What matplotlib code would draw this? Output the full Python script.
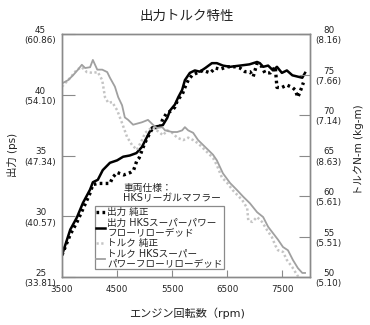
import matplotlib
matplotlib.use("Agg")
import matplotlib.pyplot as plt
from matplotlib.lines import Line2D

plt.rcParams['font.family'] = ['DejaVu Sans', 'Noto Sans CJK JP']

# ---- data ----
rpm_p_std = [3500,3650,3770,3880,4000,4060,4150,4280,4370,4420,4500,4620,4740,4800,4860,4900,5000,5100,5150,5280,5320,5400,5500,5550,5600,5680,5730,5790,5860,5950,6060,6190,6280,6370,6500,6640,6730,6820,6910,6970,7040,7130,7180,7280,7370,7400,7490,7580,7680,7730,7780,7850,7880]
ps_std = [26.8,28.5,29.5,30.6,31.8,32.6,32.7,32.7,32.7,33.2,33.6,33.4,33.6,33.8,34.6,34.8,36.0,36.9,37.3,37.3,37.9,38.5,38.7,39.0,39.6,40.0,40.6,41.2,41.6,41.8,42.0,41.8,42.2,42.1,42.3,42.3,42.2,41.9,41.9,41.5,42.6,42.3,41.8,41.8,42.3,40.6,40.6,40.8,40.6,40.4,39.8,40.6,41.0]

rpm_p_hks = [3500,3650,3770,3880,4010,4060,4150,4240,4370,4500,4610,4730,4850,4950,5040,5130,5220,5330,5410,5460,5550,5610,5680,5730,5820,5910,6000,6100,6220,6310,6420,6550,6730,6900,7040,7090,7150,7240,7330,7400,7490,7580,7680,7770,7860,7910]
ps_hks = [26.8,28.9,29.9,31.1,32.2,32.8,33.0,33.8,34.4,34.6,34.9,35.0,35.2,35.7,36.5,37.3,37.4,37.5,38.1,38.7,39.2,39.8,40.4,41.2,41.8,42.0,41.9,42.2,42.6,42.6,42.4,42.3,42.4,42.5,42.7,42.6,42.3,42.4,42.0,42.3,41.8,42.0,41.6,41.5,41.4,41.8]

rpm_t_std = [3500,3650,3770,3860,3950,4060,4150,4230,4280,4340,4410,4500,4590,4680,4770,4860,4950,5010,5060,5150,5220,5280,5330,5410,5500,5590,5700,5790,5880,5970,6060,6150,6240,6310,6400,6500,6600,6770,6860,6880,6950,7040,7130,7220,7310,7370,7420,7510,7580,7680,7770,7790]
t_std = [73.5,74.6,75.6,75.9,75.3,75.2,75.3,74.3,72.2,71.5,71.6,70.6,69.0,67.3,66.3,65.7,66.9,67.8,68.1,68.5,68.1,67.8,67.5,68.1,67.8,67.2,66.9,67.2,66.9,66.5,65.9,65.3,64.7,63.8,62.3,61.6,60.7,59.5,58.5,57.0,56.8,57.4,56.8,55.8,54.9,53.9,53.3,53.1,52.1,51.2,50.2,50.0]

rpm_t_hks = [3500,3610,3700,3790,3860,3920,4010,4060,4140,4230,4320,4370,4460,4520,4590,4640,4700,4790,4950,5060,5150,5220,5320,5370,5500,5590,5680,5730,5790,5880,5970,6060,6150,6240,6310,6420,6550,6680,6790,6910,7040,7150,7240,7330,7420,7510,7600,7690,7780,7860,7910]
t_hks = [73.9,74.3,74.9,75.6,76.2,75.8,75.9,76.8,75.6,75.6,75.3,74.6,73.5,72.2,71.2,69.7,69.4,68.8,69.1,69.4,68.8,68.4,68.5,68.1,67.9,67.9,68.1,68.5,68.1,67.8,66.9,66.3,65.7,65.1,64.4,62.8,61.6,60.7,59.9,59.1,58.0,57.4,56.2,55.4,54.6,53.7,53.3,52.1,51.1,50.5,50.5]

x_ticks = [3500, 4500, 5500, 6500, 7500]
left_ticks = [25, 30, 35, 40, 45]
left_labels = ["25\n(33.81)", "30\n(40.57)", "35\n(47.34)", "40\n(54.10)", "45\n(60.86)"]
right_ticks = [50, 55, 60, 65, 70, 75, 80]
right_labels = ["50\n(5.10)", "55\n(5.51)", "60\n(5.61)", "65\n(8.63)", "70\n(7.14)", "75\n(7.66)", "80\n(8.16)"]
legend_labels = ["出力 純正", "出力 HKSスーパーパワー\nフローリローデッド", "トルク 純正", "トルク HKSスーパー\nパワーフローリローデッド"]

# ---- figure ----
W, H = 370, 325
fig = plt.figure(figsize=(W/100, H/100), dpi=100)
ax = fig.add_axes([62/W, 1-277/H, 248/W, 243/H])
ax2 = ax.twinx()

gray = '#8a8a8a'
txt = '#222222'

l1, = ax.plot(rpm_p_std, ps_std, color='black', lw=2.4, ls=(0, (0.8, 1.0)), label=legend_labels[0])
l2, = ax.plot(rpm_p_hks, ps_hks, color='black', lw=1.8, label=legend_labels[1])
l3, = ax2.plot(rpm_t_std, t_std, color='#c4c4c4', lw=1.8, ls=(0, (0.9, 1.0)), label=legend_labels[2])
l4, = ax2.plot(rpm_t_hks, t_hks, color='#a0a0a0', lw=1.3, label=legend_labels[3])

ax.set_xlim(3500, 8000)
ax.set_ylim(25, 45)
ax2.set_ylim(50, 80)

ax.set_xticks(x_ticks)
ax.set_xticklabels([str(v) for v in x_ticks], fontsize=6.3, color=txt)
ax.set_yticks(left_ticks)
ax.set_yticklabels(left_labels, fontsize=6.3, color=txt)
ax2.set_yticks(right_ticks)
ax2.set_yticklabels(right_labels, fontsize=6.3, color=txt)
for lb in ax.get_yticklabels():
    lb.set_multialignment('center')
for lb in ax2.get_yticklabels():
    lb.set_multialignment('center')

ax.tick_params(axis='x', direction='in', length=5, color=gray, pad=6)
ax.tick_params(axis='y', direction='in', length=9, color=gray, pad=4)
ax2.tick_params(axis='y', direction='in', length=8, color=gray, pad=4)
for a in (ax, ax2):
    for s in a.spines.values():
        s.set_color(gray)
        s.set_linewidth(1.0)

fig.text(187/W, 1-16/H, "出力トルク特性", ha='center', va='center', fontsize=9.7, color=txt)
fig.text(187/W, 1-313/H, "エンジン回転数（rpm)", ha='center', va='center', fontsize=8, color=txt)
fig.text(12/W, 1-155/H, "出力 (ps)", ha='center', va='center', rotation=90, fontsize=7.5, color=txt)
fig.text(359/W, 1-150/H, "トルクN-m (kg-m)", ha='center', va='center', rotation=90, fontsize=7.5, color=txt)

ax2.text((123-62)/248, (277-193)/243, "車両仕様：\nHKSリーガルマフラー", transform=ax.transAxes,
         ha='left', va='center', fontsize=7, color=txt, linespacing=1.1)

leg = ax2.legend(handles=[l1, l2, l3, l4], loc='upper left',
                 bbox_to_anchor=((95-62)/248, (277-206)/243),
                 fontsize=6.9, frameon=True, fancybox=False, framealpha=1,
                 edgecolor=gray, handlelength=0.9, handletextpad=0.25,
                 labelspacing=0.08, borderpad=0.12, borderaxespad=0)
leg.get_frame().set_linewidth(0.9)
for t in leg.get_texts():
    t.set_color(txt)
    t.set_linespacing(0.9)

fig.savefig("out.png", dpi=100)
